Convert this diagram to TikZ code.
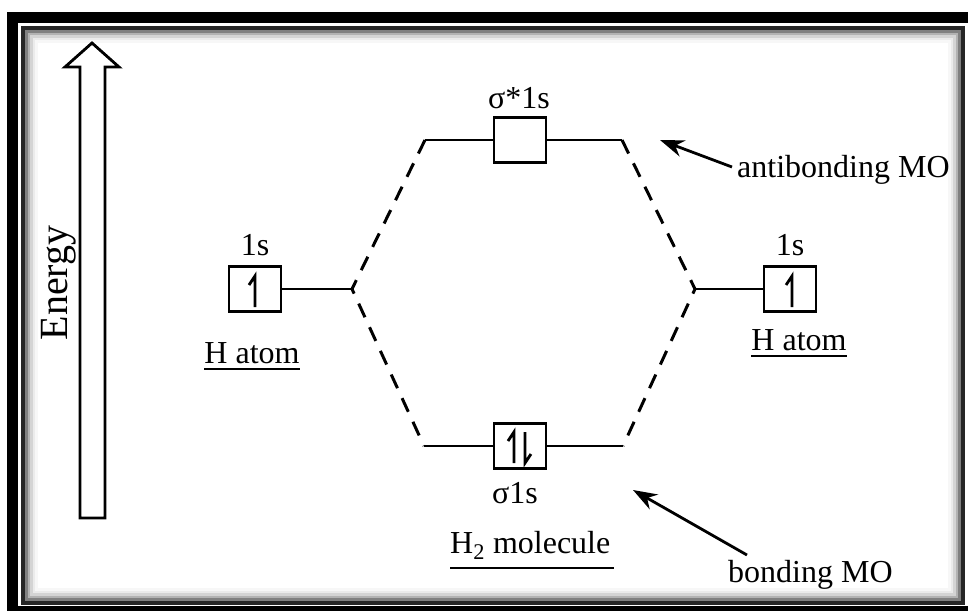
\documentclass[tikz,border=0pt]{standalone}
\usepackage{fontspec}
\setmainfont{Liberation Serif}
\usepackage{tikz}
\usetikzlibrary{arrows.meta}

\begin{document}
\begin{tikzpicture}[
    x=1pt, y=-1pt,
    lbl/.style={font=\fontsize{32}{36}\selectfont, inner sep=0},
    orb/.style={
        draw, line width=2.8,
        minimum width=52, minimum height=45,
        inner sep=0
    },
    lvl/.style={line width=2.5},
    mo/.style={line width=3, dash pattern=on 15 off 11},
    spin/.style={line width=2.8},
    pointer/.style={-{Stealth[length=24,width=17]}, line width=2.8}
]
\useasboundingbox (0,0) rectangle (968,611);

% frame
\fill[black] (7,12) rectangle (968,611);
\fill[white] (18,23) rectangle (968,606);
\draw[black!85, line width=4] (23,28) rectangle (963,603);
\draw[black!50, line width=2.5] (26.5,31.5) rectangle (959.5,599.5);
\draw[black!30, line width=2.5] (29,34) rectangle (957,597);
\draw[black!17, line width=2.5] (31.5,36.5) rectangle (954.5,594.5);
\draw[black!8, line width=2.5] (34,39) rectangle (952,592);
\draw[black!3, line width=2.5] (36.5,41.5) rectangle (949.5,589.5);

% energy axis
\draw[line width=2.8, line join=miter]
    (80,518) -- (80,67) -- (65,67) -- (92,43) -- (119,67) -- (105,67) -- (105,518) -- cycle;
\node[lbl, font=\fontsize{40}{44}\selectfont, rotate=90] (energy) at (59,283) {Energy};

% orbitals
\node[orb] (hl) at (255,289) {};
\node[orb] (hr) at (790,289) {};
\node[orb] (anti) at (520,140) {};
\node[orb] (bond) at (520,446) {};

\coordinate (lj) at (352,289);
\coordinate (rj) at (695,289);
\coordinate (aL) at (425,140);
\coordinate (aR) at (622,140);
\coordinate (bL) at (424,446);
\coordinate (bR) at (623,446);

\draw[lvl] (hl.east) -- (lj);
\draw[lvl] (hr.west) -- (rj);
\draw[lvl] (aL) -- (anti.west);
\draw[lvl] (anti.east) -- (aR);
\draw[lvl] (bL) -- (bond.west);
\draw[lvl] (bond.east) -- (bR);

\draw[mo] (aL) -- (lj) -- (bL);
\draw[mo] (aR) -- (rj) -- (bR);

% electrons
\draw[spin] ([shift={(0,18)}]hl.center) -- ++(0,-31) -- ++(-6,9);
\draw[spin] ([shift={(2,18)}]hr.center) -- ++(0,-31) -- ++(-6,9);
\draw[spin] ([shift={(-6,17)}]bond.center) -- ++(0,-31) -- ++(-6,9);
\draw[spin] ([shift={(5,-14)}]bond.center) -- ++(0,31) -- ++(6,-9);

% labels
\node[lbl, anchor=base] (s1l) at (255,255) {1s};
\node[lbl, anchor=base] (s1r) at (790,255) {1s};
\node[lbl, anchor=base] (santi) at (519,108) {σ*1s};
\node[lbl, anchor=base] (sbond) at (515,503) {σ1s};

\node[lbl, anchor=base] (hatl) at (252,363) {H atom};
\node[lbl, anchor=base] (hatr) at (799,350) {H atom};
\node[lbl, anchor=base west] (mol) at (450,553) {H\textsubscript{2} molecule};
\draw[line width=2.2] ([yshift=-6]hatl.base west) -- ([yshift=-6]hatl.base east);
\draw[line width=2.2] ([yshift=-6]hatr.base west) -- ([yshift=-6]hatr.base east);
\draw[line width=2.2] ([yshift=-15]mol.base west) -- ([xshift=3,yshift=-15]mol.base east);

\node[lbl, anchor=base west] (abmo) at (737,177) {antibonding MO};
\node[lbl, anchor=base west] (bmo) at (728,582) {bonding MO};

\coordinate (abtip) at (660,140);
\coordinate (btip) at (633,490);
\draw[pointer] ([xshift=-5,yshift=10]abmo.base west) -- (abtip);
\draw[pointer] ([xshift=19,yshift=27]bmo.base west) -- (btip);
\end{tikzpicture}
\end{document}
